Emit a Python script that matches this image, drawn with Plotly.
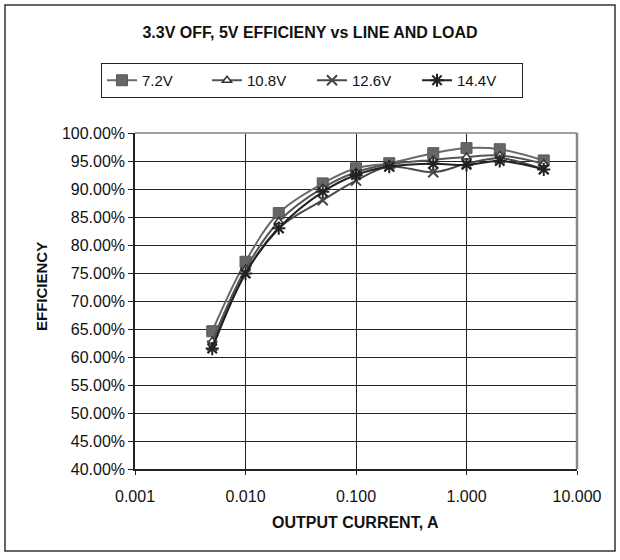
import plotly.graph_objects as go

current = [0.005, 0.01, 0.02, 0.05, 0.1, 0.2, 0.5, 1.0, 2.0, 5.0]
eff_7v2 = [0.646, 0.770, 0.857, 0.910, 0.937, 0.946, 0.964, 0.973, 0.971, 0.951]
eff_10v8 = [0.628, 0.757, 0.842, 0.902, 0.930, 0.944, 0.952, 0.957, 0.960, 0.945]
eff_12v6 = [0.620, 0.750, 0.830, 0.880, 0.915, 0.940, 0.930, 0.945, 0.955, 0.935]
eff_14v4 = [0.615, 0.749, 0.830, 0.895, 0.925, 0.940, 0.945, 0.943, 0.950, 0.935]

series_names = ["7.2V", "10.8V", "12.6V", "14.4V"]
x_ticks = [0.001, 0.01, 0.1, 1, 10]
x_tick_text = ["0.001", "0.010", "0.100", "1.000", "10.000"]
y_ticks = [0.40, 0.45, 0.50, 0.55, 0.60, 0.65, 0.70, 0.75, 0.80, 0.85, 0.90, 0.95, 1.00]

FONT = "Liberation Sans, Arial, sans-serif"

styles = [
    dict(line=dict(color="#6a6a6a", width=2, shape="spline"),
         marker=dict(symbol="square", size=11, color="#666666", line=dict(color="#5a5a5a", width=1))),
    dict(line=dict(color="#555555", width=2, shape="spline"),
         marker=dict(symbol="triangle-up", size=8, color="white", line=dict(color="#333333", width=1.5))),
    dict(line=dict(color="#4a4a4a", width=2, shape="spline"),
         marker=dict(symbol="x-thin", size=10, color="#444444", line=dict(color="#444444", width=2))),
    dict(line=dict(color="#222222", width=2, shape="spline"),
         marker=dict(symbol="asterisk", size=11, color="#222222", line=dict(color="#222222", width=2))),
]

fig = go.Figure()
for name, ys, st in zip(series_names, [eff_7v2, eff_10v8, eff_12v6, eff_14v4], styles):
    fig.add_trace(go.Scatter(x=current, y=ys, name=name, mode="lines+markers",
                             line=st["line"], marker=st["marker"]))

L, R, T, B = 135, 43, 133, 91
W, H = 620, 560
pw, ph = W - L - R, H - T - B

def px_x(p):
    return (p - L) / pw

def px_y(p):
    return (H - B - p) / ph

fig.update_layout(
    width=W, height=H,
    margin=dict(l=L, r=R, t=T, b=B),
    paper_bgcolor="white", plot_bgcolor="white",
    font=dict(family=FONT, size=16, color="#111111"),
    title=dict(text="<b>3.3V OFF, 5V EFFICIENY vs LINE AND LOAD</b>",
               x=0.5, xanchor="center", y=1 - 32 / H, yanchor="middle",
               font=dict(family=FONT, size=16, color="#111111")),
    showlegend=True,
    legend=dict(orientation="h", x=px_x(312), xanchor="center", y=px_y(63), yanchor="top",
                bordercolor="#222222", borderwidth=1, bgcolor="white",
                font=dict(family=FONT, size=15, color="#111111"),
                entrywidth=60, entrywidthmode="pixels",
                itemwidth=30, tracegroupgap=0),
    xaxis=dict(type="log", range=[-3, 1], tickvals=x_ticks, ticktext=x_tick_text,
               showgrid=True, gridcolor="#222222", gridwidth=1,
               showline=True, linecolor="#222222", linewidth=1.5,
               ticks="outside", ticklen=4, tickcolor="#222222",
               ticklabelstandoff=8,
               tickfont=dict(family=FONT, size=16, color="#111111"),
               zeroline=False),
    yaxis=dict(range=[0.40, 1.00], tickvals=y_ticks, tickformat=".2%",
               showgrid=True, gridcolor="#222222", gridwidth=1,
               showline=True, linecolor="#222222", linewidth=1.5,
               ticks="outside", ticklen=5, tickcolor="#222222",
               tickfont=dict(family=FONT, size=16, color="#111111"),
               zeroline=False),
    shapes=[
        dict(type="line", xref="paper", yref="paper", x0=0, x1=1, y0=1, y1=1,
             line=dict(color="#a0a0a0", width=2)),
        dict(type="line", xref="paper", yref="paper", x0=1, x1=1, y0=0, y1=1,
             line=dict(color="#888888", width=2.5)),
        dict(type="rect", xref="paper", yref="paper",
             x0=px_x(5), x1=px_x(615), y0=px_y(551), y1=px_y(5),
             line=dict(color="#333333", width=1.5), fillcolor="rgba(0,0,0,0)", layer="below"),
    ],
    annotations=[
        dict(text="<b>OUTPUT CURRENT, A</b>", xref="paper", yref="paper",
             x=px_x(355), y=px_y(522), xanchor="center", yanchor="middle", showarrow=False,
             font=dict(family=FONT, size=16, color="#111111")),
        dict(text="<b>EFFICIENCY</b>", xref="paper", yref="paper",
             x=px_x(41), y=px_y(287), xanchor="center", yanchor="middle", showarrow=False,
             textangle=-90,
             font=dict(family=FONT, size=15, color="#111111")),
    ],
)

fig.write_html("out.html", config={"displayModeBar": False},
               post_script="document.body.style.margin='0';document.body.style.padding='0';")
